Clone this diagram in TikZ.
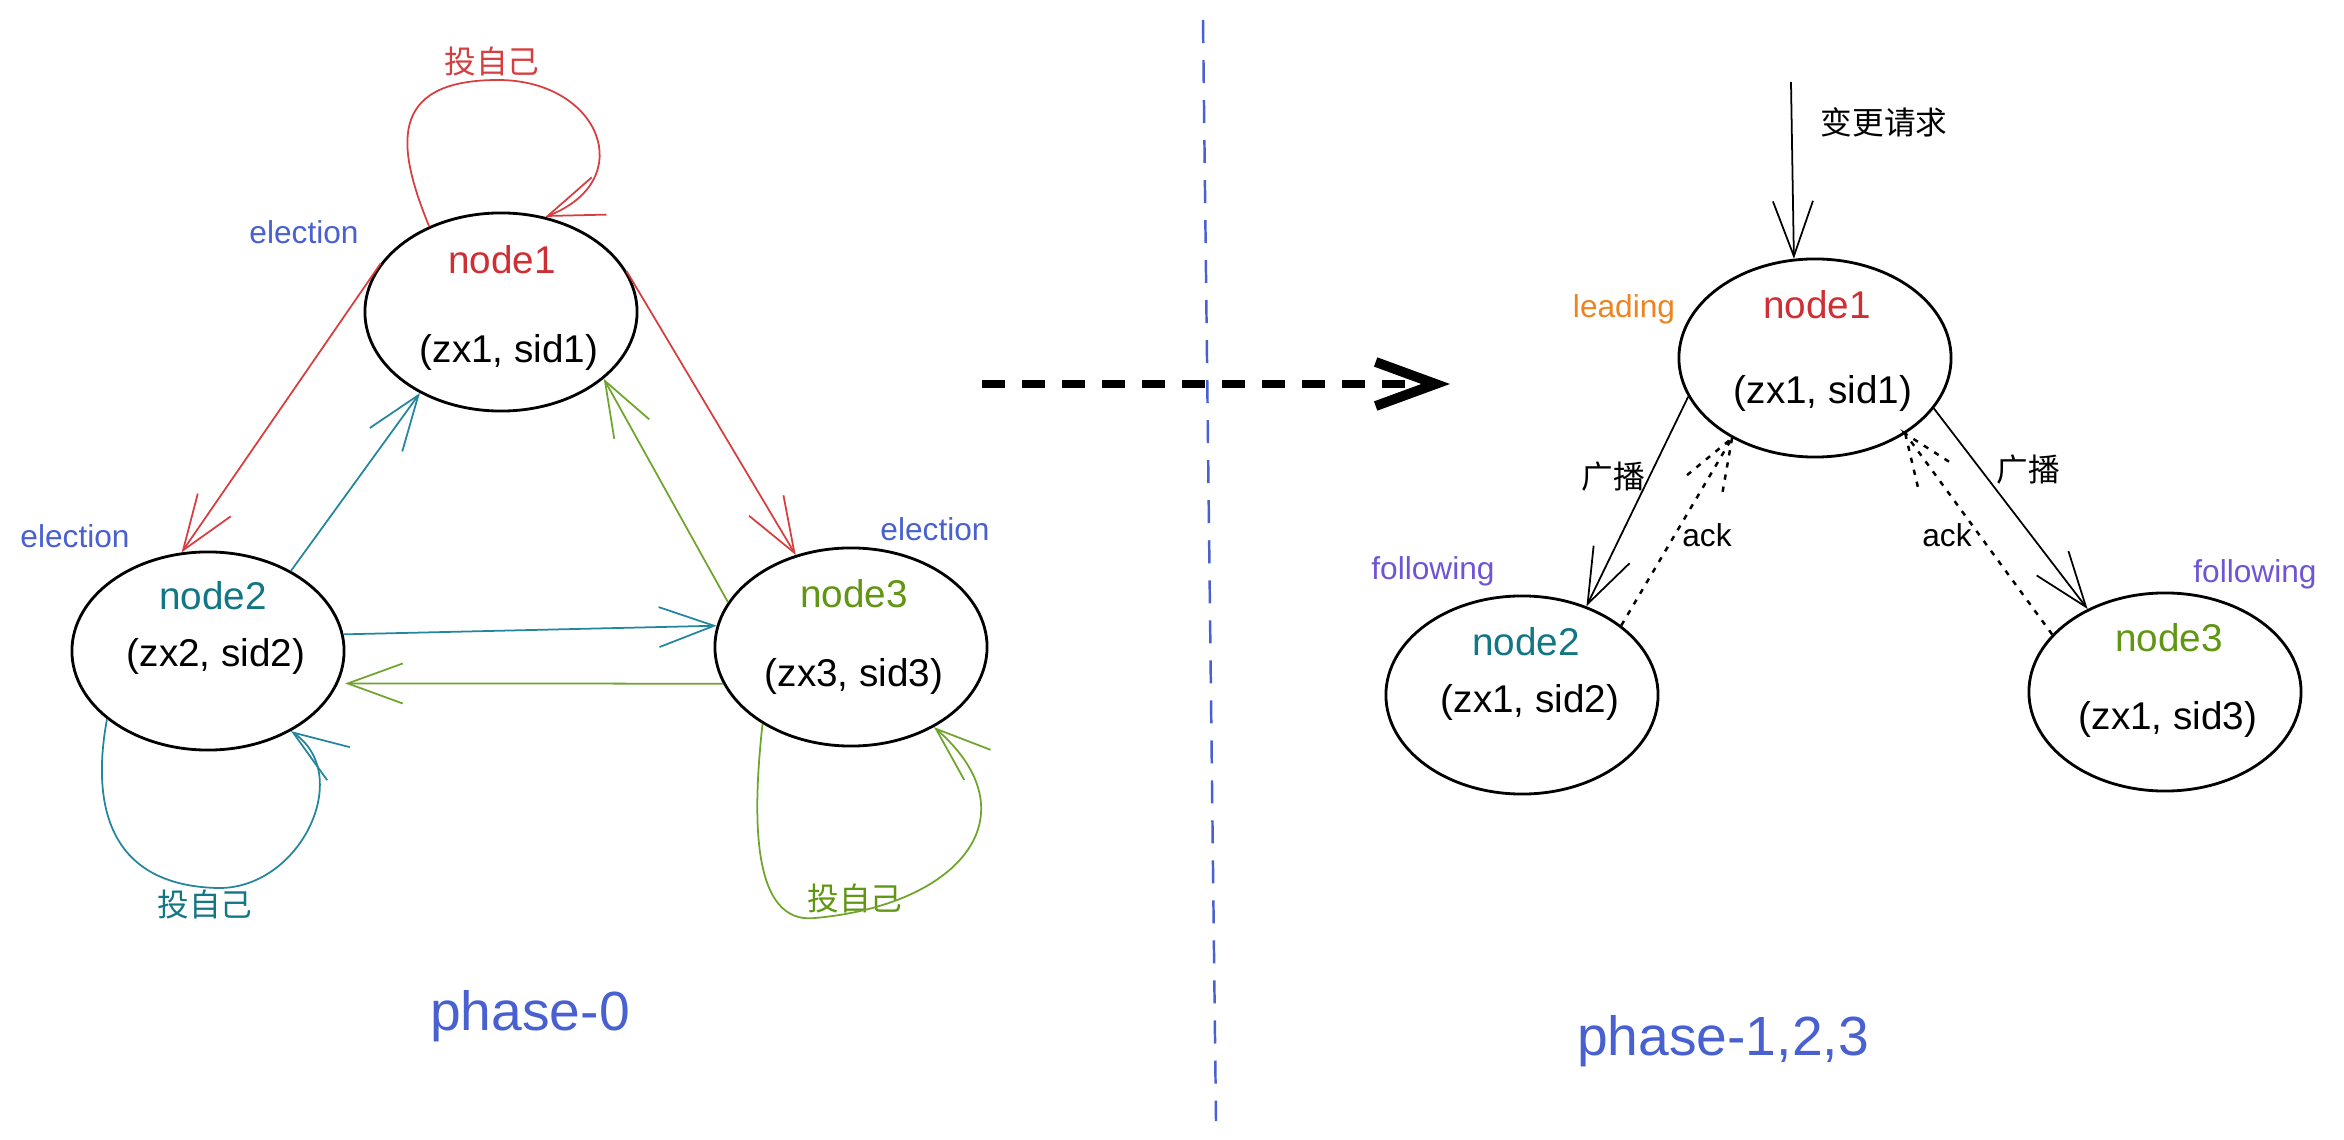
\documentclass[tikz,border=0pt]{standalone}
\usepackage{fontspec}
\setmainfont{Liberation Sans}
\newfontfamily\cjk{Noto Sans CJK SC}
\usepackage{xcolor}
\usepackage{tikz}
\usetikzlibrary{arrows.meta,shapes.geometric}

\definecolor{nodered}{RGB}{207,46,52}
\definecolor{linered}{RGB}{214,62,64}
\definecolor{nodeteal}{RGB}{18,118,132}
\definecolor{lineteal}{RGB}{36,134,158}
\definecolor{nodegreen}{RGB}{96,150,18}
\definecolor{linegreen}{RGB}{112,165,44}
\definecolor{stateblue}{RGB}{72,96,208}
\definecolor{leadorange}{RGB}{236,132,32}
\definecolor{followpurple}{RGB}{112,84,214}

\begin{document}
\begin{tikzpicture}[x=0.01cm, y=-0.01cm,
    server/.style={draw, ellipse, line width=0.8pt, minimum width=2.72cm, minimum height=1.98cm, inner sep=0pt},
    nodename/.style={font=\fontsize{11}{13}\selectfont},
    idpair/.style={font=\fontsize{11}{13}\selectfont},
    statetag/.style={font=\fontsize{9}{11}\selectfont},
    cjktag/.style={font=\cjk\fontsize{9}{11}\selectfont},
    phasetitle/.style={font=\fontsize{15.7}{18}\selectfont, text=stateblue},
    vote/.style={line width=0.5pt, -{Straight Barb[length=5.5mm,width=4mm]}},
    ack/.style={line width=0.7pt, dash pattern=on 1.5pt off 2pt},
    bigdash/.style={line width=2.3pt, dash pattern=on 0.23cm off 0.17cm, -{Straight Barb[length=6mm,width=4.4mm,line width=2.8pt]}},
    divider/.style={draw=stateblue, line width=0.7pt, dash pattern=on 0.23cm off 0.17cm}]
        \useasboundingbox (0,0) rectangle (2344,1140);

        \node[server] (L1) at (501,312) {};
        \node[server] (L2) at (208,651) {};
        \node[server] (L3) at (851,647) {};

        \node[nodename, text=nodered] at (502,260) {node1};
        \node[idpair] at (509,352) {(zx1, sid1)};
        \node[nodename, text=nodeteal] at (213,596) {node2};
        \node[idpair] at (216,656) {(zx2, sid2)};
        \node[nodename, text=nodegreen] at (854,594) {node3};
        \node[idpair] at (854,676) {(zx3, sid3)};

        \node[statetag, text=stateblue] at (304,232) {election};
        \node[statetag, text=stateblue] at (75,536) {election};
        \node[statetag, text=stateblue] at (935,529) {election};
        \node[cjktag, text=linered] at (492,61) {投自己};
        \node[cjktag, text=nodeteal] at (205,904) {投自己};
        \node[cjktag, text=nodegreen] at (855,898) {投自己};

        \path
          (L1.158) edge[vote, draw=linered] (L2.105)
          (L1.18) edge[vote, draw=linered] (L3.121)
          (L2.44) edge[vote, draw=lineteal] (L1.225)
          (L2.7) edge[vote, draw=lineteal] (L3.171)
          (L3.160) edge[vote, draw=linegreen] (L1.327)
          (L3.196) edge[vote, draw=linegreen, shorten >=2pt] (L2.-14);

        \draw[vote, draw=linered] (L1.130) .. controls (398,150) and (385,80) .. (498,80) .. controls (600,80) and (640,180) .. (L1.65);
        \draw[vote, draw=lineteal] (L2.214) .. controls (92,800) and (105,885) .. (217,888) .. controls (300,890) and (355,775) .. (L2.-44);
        \draw[vote, draw=linegreen] (L3.221) .. controls (752,820) and (752,925) .. (815,918) .. controls (960,905) and (1035,815) .. (L3.-44);

        \node[phasetitle] at (530,1016) {phase-0};

        \draw[divider] (1203,20) -- (1216,1121);
        \coordinate (from0) at (982,384);
        \coordinate (to1) at (1450,384);
        \draw[bigdash] (from0) -- (to1);

        \node[server] (R1) at (1815,358) {};
        \node[server] (R2) at (1522,695) {};
        \node[server] (R3) at (2165,692) {};

        \node[nodename, text=nodered] at (1817,305) {node1};
        \node[idpair] at (1823,393) {(zx1, sid1)};
        \node[nodename, text=nodeteal] at (1526,642) {node2};
        \node[idpair] at (1530,702) {(zx1, sid2)};
        \node[nodename, text=nodegreen] at (2169,638) {node3};
        \node[idpair] at (2168,719) {(zx1, sid3)};

        \node[statetag, text=leadorange] at (1624,309) {leading};
        \node[statetag, text=followpurple] at (1433,571) {following};
        \node[statetag, text=followpurple] at (2255,574) {following};
        \node[cjktag] at (1884,122) {变更请求};
        \node[cjktag] at (1613,477) {广播};
        \node[cjktag] at (2028,470) {广播};
        \node[statetag] at (1707,535) {ack};
        \node[statetag] at (1947,535) {ack};

        \coordinate (req) at (1791,82);
        \path
          (req) edge[vote] (R1.102)
          (R1.197) edge[vote] (R2.54)
          (R1.-23) edge[vote] (R3.133);

        \draw[ack] (R2.35) -- (R1.224) -- ++(-45,37) (R1.224) -- ++(-10,57);
        \draw[ack] (R3.153) -- (R1.-40) -- ++(47,30) (R1.-40) -- ++(13,55);

        \node[phasetitle] at (1723,1041) {phase-1,2,3};
  \end{tikzpicture}
\end{document}
